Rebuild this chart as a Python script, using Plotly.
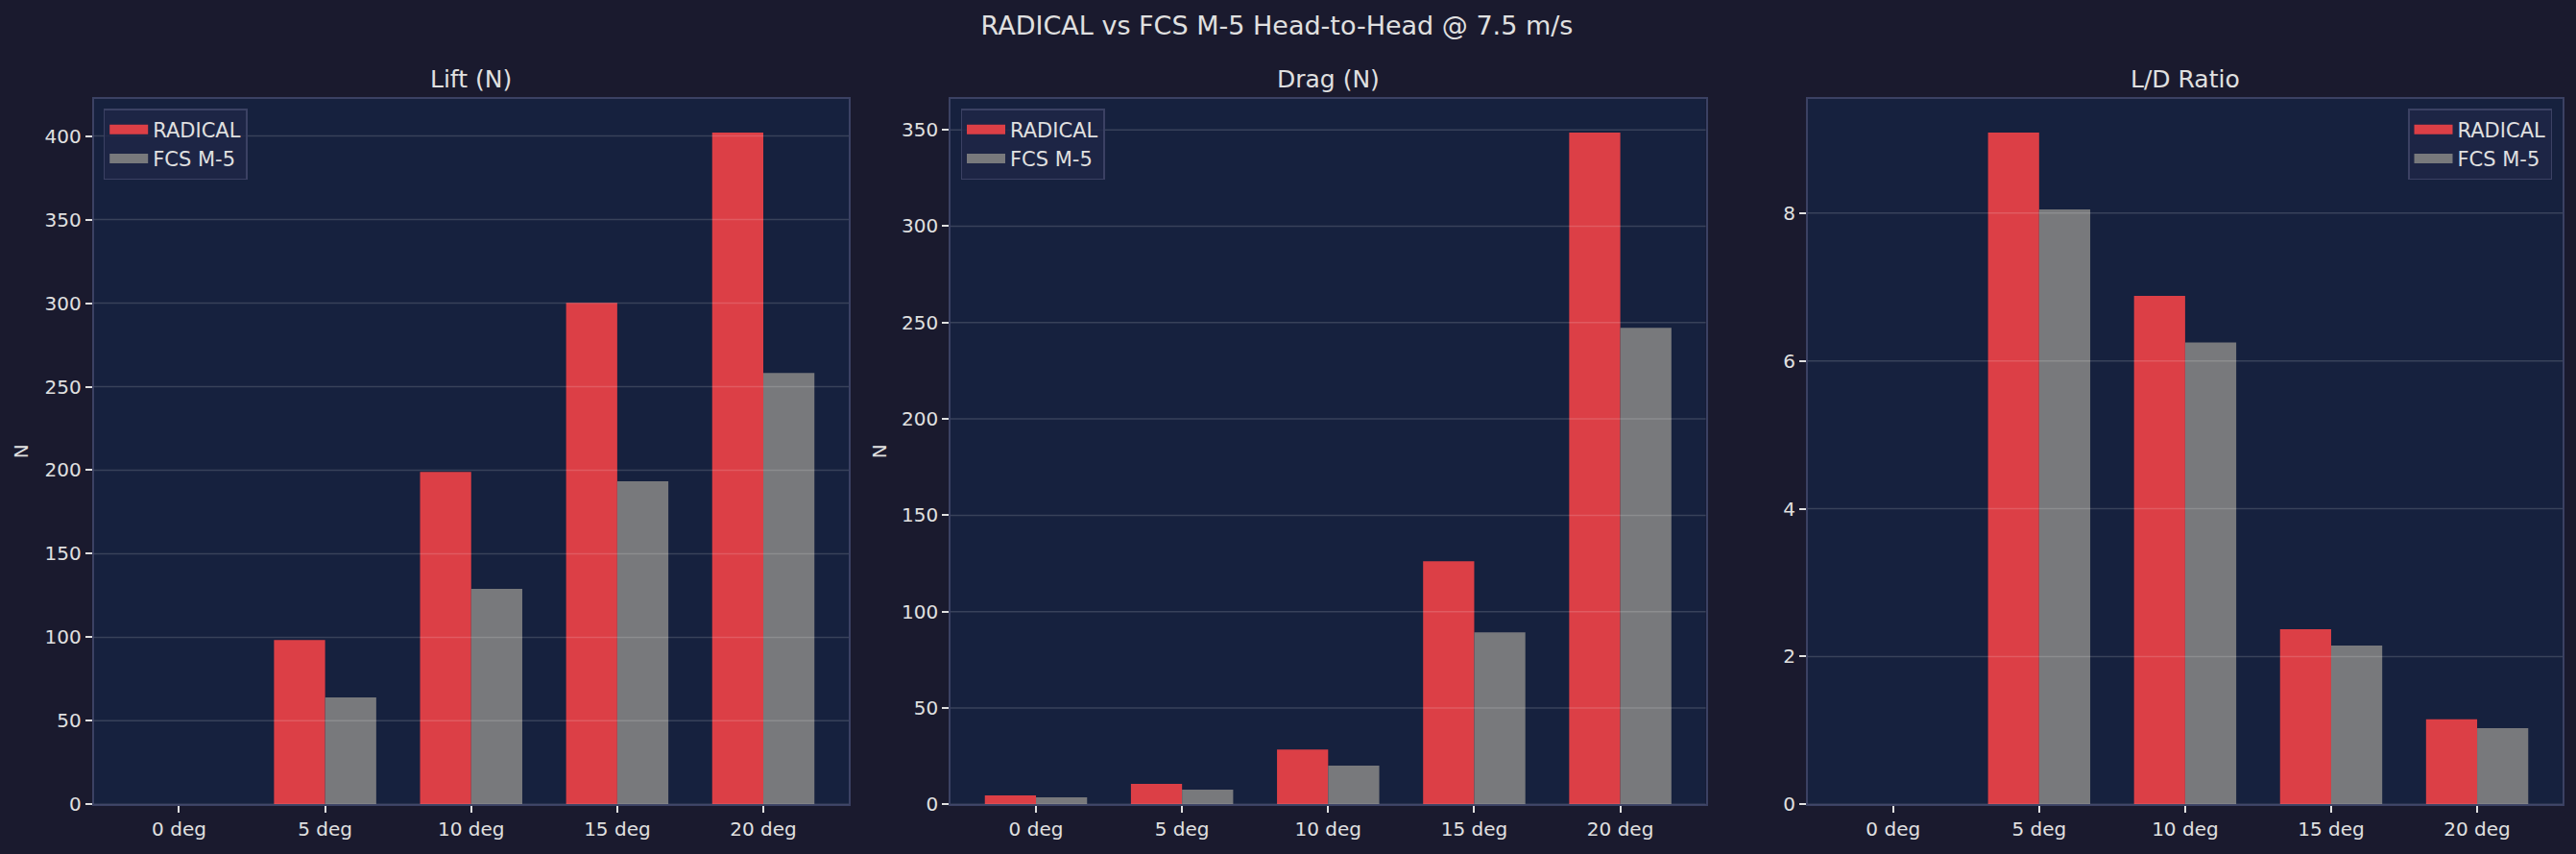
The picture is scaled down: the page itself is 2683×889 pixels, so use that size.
import plotly.graph_objects as go

angles = ["0 deg", "5 deg", "10 deg", "15 deg", "20 deg"]
lift_radical = [0, 98.4, 199.0, 300.2, 402.1]
lift_fcs = [0, 64.0, 128.9, 193.3, 258.2]
drag_radical = [4.6, 10.6, 28.5, 126.2, 348.6]
drag_fcs = [3.6, 7.6, 20.1, 89.3, 247.3]
ld_radical = [0, 9.09, 6.88, 2.37, 1.15]
ld_fcs = [0, 8.05, 6.25, 2.15, 1.03]

panel_titles = ["Lift (N)", "Drag (N)", "L/D Ratio"]
y_labels = ["N", "N", ""]
y_dticks = [50, 50, 2]
series_names = ["RADICAL", "FCS M-5"]

W, H = 2683, 889
FIG_BG = "#1a1a2e"
AX_BG = "#16213e"
RED = "#dc3f46"
GRAY = "#78797c"
TXT = "#e0e0e0"
SPINE = "#3b4163"
FONT = "DejaVu Sans"

domains = [(97.5 / W, 884 / W), (990 / W, 1776.6 / W), (1882.8 / W, 2669 / W)]
ydom = (1 - 837.3 / H, 1 - 103 / H)

series = [(lift_radical, lift_fcs), (drag_radical, drag_fcs), (ld_radical, ld_fcs)]
legend_pos = [
    dict(x=107.7 / W, xanchor="left"),
    dict(x=1000.5 / W, xanchor="left"),
    dict(x=2658 / W, xanchor="right"),
]

fig = go.Figure()
xs = list(range(len(angles)))
shapes = []
annotations = []

for i, (rad, fcs) in enumerate(series):
    sfx = "" if i == 0 else str(i + 1)
    leg = "legend" if i == 0 else f"legend{i + 1}"
    for vals, col, nm, og in ((rad, RED, series_names[0], "a"), (fcs, GRAY, series_names[1], "b")):
        fig.add_trace(go.Bar(x=xs, y=vals, name=nm, marker=dict(color=col, line=dict(width=0)),
                             xaxis="x" + sfx, yaxis="y" + sfx, showlegend=False, offsetgroup=og))
    # legend entries with wide rectangular swatches
    for col, nm in ((RED, series_names[0]), (GRAY, series_names[1])):
        fig.add_trace(go.Scatter(x=[None], y=[None], mode="lines", name=nm,
                                 line=dict(color=col, width=15),
                                 xaxis="x" + sfx, yaxis="y" + sfx, legend=leg, hoverinfo="skip"))
    ymax = max(max(rad), max(fcs)) * 1.05
    axcommon = dict(showline=True, linecolor=SPINE, linewidth=1.5, mirror=True,
                    ticks="outside", ticklen=7, tickwidth=1.5, tickcolor=TXT, automargin=False,
                    tickfont=dict(family=FONT, size=20, color=TXT), zeroline=False)
    fig.update_layout(**{
        "xaxis" + sfx: dict(domain=list(domains[i]), anchor="y" + sfx, range=[-0.585, 4.585],
                            tickmode="array", tickvals=xs, ticktext=angles, showgrid=False, **axcommon),
        "yaxis" + sfx: dict(domain=list(ydom), anchor="x" + sfx, range=[0, ymax], dtick=y_dticks[i],
                            tick0=0, showgrid=False, **axcommon),
    })
    # gridlines drawn above bars (as in reference)
    v = 0
    while v <= ymax:
        shapes.append(dict(type="line", xref=f"x{sfx} domain", yref="y" + sfx, x0=0, x1=1, y0=v, y1=v,
                           line=dict(color="rgba(255,255,255,0.15)", width=1.5), layer="above"))
        v += y_dticks[i]
    annotations.append(dict(text=panel_titles[i], xref="paper", yref="paper",
                            x=(domains[i][0] + domains[i][1]) / 2, y=1 - 82 / H,
                            xanchor="center", yanchor="middle", showarrow=False,
                            font=dict(family=FONT, size=25, color=TXT)))
    if y_labels[i]:
        annotations.append(dict(text=y_labels[i], xref="paper", yref="paper",
                                x=[22 / W, 916 / W][i], y=(ydom[0] + ydom[1]) / 2,
                                xanchor="center", yanchor="middle", textangle=-90, showarrow=False,
                                font=dict(family=FONT, size=20, color=TXT)))
    fig.update_layout(**{
        leg: dict(**legend_pos[i], y=1 - 113 / H, yanchor="top", bgcolor="rgba(30,38,70,0.85)",
                  bordercolor=SPINE, borderwidth=1.5, font=dict(family=FONT, size=21, color=TXT),
                  itemwidth=40, tracegroupgap=4)
    })

fig.update_layout(
    width=W, height=H,
    paper_bgcolor=FIG_BG, plot_bgcolor=AX_BG,
    margin=dict(l=0, r=0, t=0, b=0, autoexpand=False),
    barmode="group", bargap=0.3, bargroupgap=0,
    title=dict(text="RADICAL vs FCS M-5 Head-to-Head @ 7.5 m/s", x=1330 / W, xanchor="center",
               y=1 - 27 / H, yanchor="middle", font=dict(family=FONT, size=27, color=TXT)),
    shapes=shapes, annotations=annotations,
    font=dict(family=FONT, color=TXT),
)

fig.write_html("out.html")
